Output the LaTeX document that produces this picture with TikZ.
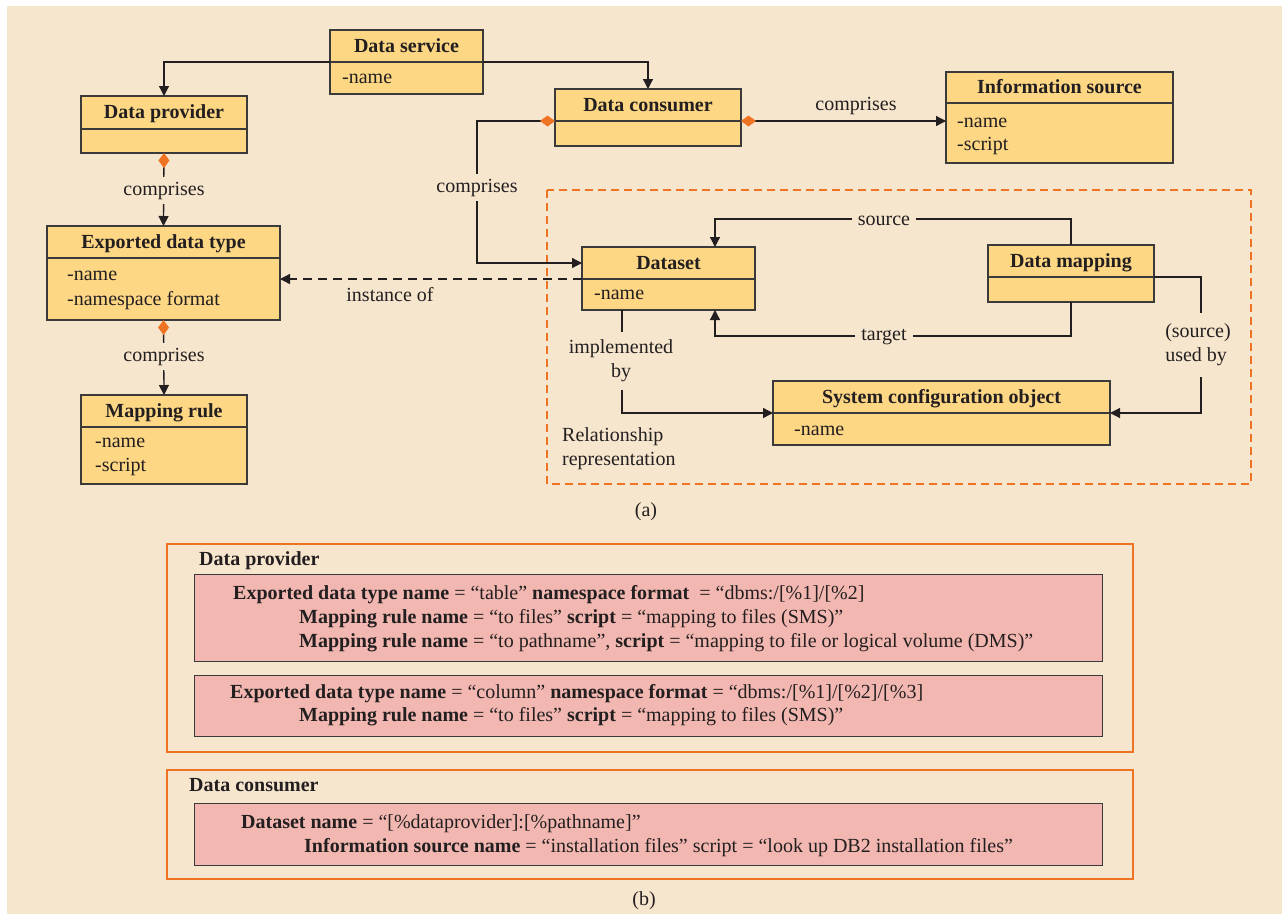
\documentclass[tikz,border=0pt]{standalone}
\usepackage{fontspec}
\setmainfont{Liberation Serif}
\usetikzlibrary{arrows.meta,calc}
\definecolor{bg}{HTML}{F7E6CE}
\definecolor{boxy}{HTML}{FDD784}
\definecolor{pinkb}{HTML}{F2B7B0}
\definecolor{orng}{HTML}{EE7424}
\definecolor{dark}{HTML}{231F20}
\definecolor{edge}{HTML}{3A3A3A}
\begin{document}
\begin{tikzpicture}[x=1pt,y=-1pt,
  every node/.style={font=\fontsize{20}{24}\selectfont, text=dark},
  hdr/.style={draw=edge, fill=boxy, line width=1.2pt, inner sep=0pt, outer sep=0pt,
    anchor=north west, minimum height=32pt, text height=15pt, text depth=3pt,
    font=\fontsize{20}{24}\selectfont\bfseries},
  bdy/.style={draw=edge, fill=boxy, line width=1.2pt, inner sep=0pt, outer sep=0pt, anchor=north west},
  attr/.style={anchor=base west, inner sep=0pt},
  conn/.style={draw=dark, line width=1.3pt},
  arr/.style={-{Triangle[length=10pt,width=10pt]}},
  diatri/.style={{Diamond[length=15pt,width=11pt,color=orng]}-{Triangle[length=10pt,width=10pt]}},
  lbl/.style={fill=bg, anchor=base, inner xsep=6pt, inner ysep=4pt, text height=14pt, text depth=5pt},
  obox/.style={draw=orng, line width=2.3pt, anchor=north west, inner sep=0pt},
  pbox/.style={draw=edge, fill=pinkb, line width=1.2pt, anchor=north west, inner sep=0pt},
]
\useasboundingbox (0,0) rectangle (1282,914);
\fill[bg] (7,6) rectangle (1282,914);

% relationship representation frame
\draw[orng, line width=2.6pt, dash pattern=on 8pt off 5pt] (547,190) rectangle (1251,484);

% ---------- class boxes ----------
\node[hdr, minimum width=153pt] (dsh) at (330,30) {Data service};
\node[bdy, minimum width=153pt, minimum height=32pt] (dsb) at (dsh.south west) {};
\node[attr] (dsa) at (342,83) {-name};

\node[hdr, minimum width=166pt, minimum height=33pt] (dph) at (81,96) {Data provider};
\node[bdy, minimum width=166pt, minimum height=24pt] (dpb) at (dph.south west) {};

\node[hdr, minimum width=186pt] (dch) at (555,89) {Data consumer};
\node[bdy, minimum width=186pt, minimum height=25pt] (dcb) at (dch.south west) {};

\node[hdr, minimum width=227pt, minimum height=31pt] (ish) at (946,72) {Information source};
\node[bdy, minimum width=227pt, minimum height=60pt] (isb) at (ish.south west) {};
\node[attr] (isa1) at (957,127) {-name};
\node[attr] (isa2) at (957,150) {-script};

\node[hdr, minimum width=233pt] (edth) at (47,226) {Exported data type};
\node[bdy, minimum width=233pt, minimum height=62pt] (edtb) at (edth.south west) {};
\node[attr] (edta1) at (67,280) {-name};
\node[attr] (edta2) at (67,305) {-namespace format};

\node[hdr, minimum width=166pt] (mrh) at (81,395) {Mapping rule};
\node[bdy, minimum width=166pt, minimum height=57pt] (mrb) at (mrh.south west) {};
\node[attr] (mra1) at (95,447) {-name};
\node[attr] (mra2) at (95,471) {-script};

\node[hdr, minimum width=173pt] (dsth) at (582,247) {Dataset};
\node[bdy, minimum width=173pt, minimum height=31pt] (dstb) at (dsth.south west) {};
\node[attr] (dsta) at (594,299) {-name};

\node[hdr, minimum width=166pt] (dmh) at (988,245) {Data mapping};
\node[bdy, minimum width=166pt, minimum height=25pt] (dmb) at (dmh.south west) {};

\node[hdr, minimum width=337pt] (scoh) at (773,381) {System configuration object};
\node[bdy, minimum width=337pt, minimum height=32pt] (scob) at (scoh.south west) {};
\node[attr] (scoa) at (794,435) {-name};

% ---------- connectors ----------
\draw[conn,arr] (dsh.south west) -| (dph.north);
\draw[conn,arr] (dsh.south east) -| (dch.north);

\draw[conn,diatri] (dpb.south) -- (edth.north);
\node[lbl] (c1) at (164,195) {comprises};

\draw[conn,diatri] (edtb.south) -- (mrh.north);
\node[lbl] (c2) at (164,361) {comprises};

\draw[conn,diatri] (dch.south west) -- ++(-78,0) |- (dsth.west);
\node[lbl] (c3) at (477,192) {comprises};

\draw[conn,diatri] (dch.south east) -- (dch.south east -| isb.west);
\node[anchor=base, inner sep=0pt] (c4) at (856,110) {comprises};

\draw[conn,dash pattern=on 9pt off 6pt,arr] (dstb.north west) -- (dstb.north west -| edtb.east);
\node[anchor=base, inner sep=0pt] (inst) at (390,301) {instance of};

\draw[conn,arr] (dmh.north) |- ($(dsth.north west)+(133,-28)$) -- ($(dsth.north west)+(133,0)$);
\node[lbl] (src) at (884,225) {source};

\draw[conn,arr] (dmb.south) |- ($(dstb.south west)+(133,26)$) -- ($(dstb.south west)+(133,0)$);
\node[lbl] (tgt) at (884,340) {target};

\draw[conn,arr] ($(dstb.south west)+(40,0)$) |- (scob.north west);
\node[fill=bg, align=center, inner xsep=4pt, inner ysep=8pt] (impl) at (621,361) {implemented\\by};

\draw[conn,arr] (dmb.north east) -- ++(47,0) |- (scob.north east);
\node[fill=bg, align=left, inner xsep=2pt, inner ysep=11pt] (used) at (1198,345) {(source)\\used by};

\node[align=left, anchor=west, inner sep=0pt] (relrep) at (562,449) {Relationship\\representation};

\node[anchor=base, inner sep=0pt] (capa) at (646,516) {(a)};

% ---------- part (b) ----------
\node[obox, minimum width=966pt, minimum height=208pt] (dpo) at (166,543) {};
\node[attr, font=\fontsize{20}{24}\selectfont\bfseries] (dpol) at (199,565) {Data provider};
\node[pbox, minimum width=908pt, minimum height=87pt] (pb1) at (194,574) {};
\node[attr] (l11) at (233,599) {\textbf{Exported data type name} = “table” \textbf{namespace format}\ \ = “dbms:/[\%1]/[\%2]};
\node[attr] (l12) at (299,623) {\textbf{Mapping rule name} = “to files” \textbf{script} = “mapping to files (SMS)”};
\node[attr] (l13) at (299,647) {\textbf{Mapping rule name} = “to pathname”, \textbf{script} = “mapping to file or logical volume (DMS)”};
\node[pbox, minimum width=908pt, minimum height=61pt] (pb2) at (194,675) {};
\node[attr] (l21) at (230,698) {\textbf{Exported data type name} = “column” \textbf{namespace format} = “dbms:/[\%1]/[\%2]/[\%3]};
\node[attr] (l22) at (299,721) {\textbf{Mapping rule name} = “to files” \textbf{script} = “mapping to files (SMS)”};

\node[obox, minimum width=966pt, minimum height=109pt] (dco) at (166,769) {};
\node[attr, font=\fontsize{20}{24}\selectfont\bfseries] (dcol) at (189,791) {Data consumer};
\node[pbox, minimum width=908pt, minimum height=62pt] (pb3) at (194,803) {};
\node[attr] (l31) at (241,828) {\textbf{Dataset name} = “[\%dataprovider]:[\%pathname]”};
\node[attr] (l32) at (304,852) {\textbf{Information source name} = “installation files” script = “look up DB2 installation files”};

\node[anchor=base, inner sep=0pt] (capb) at (644,905) {(b)};
\end{tikzpicture}
\end{document}
